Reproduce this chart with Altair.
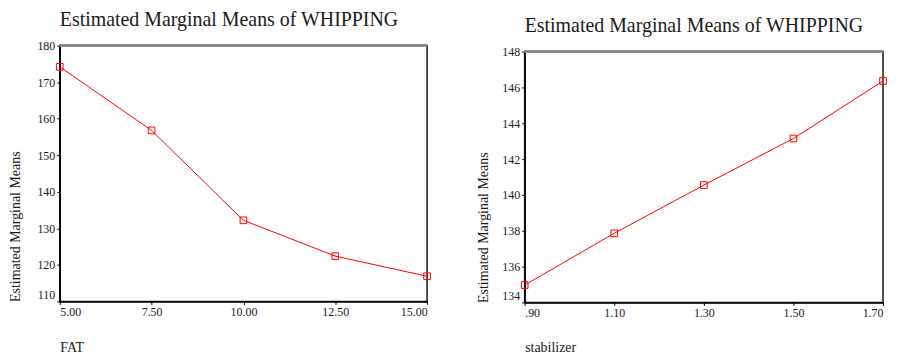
import altair as alt
import pandas as pd

# ---- data ----
fat_levels = [5.0, 7.5, 10.0, 12.5, 15.0]
fat_means = [174.2, 156.8, 132.2, 122.4, 116.9]
stab_levels = [0.9, 1.1, 1.3, 1.5, 1.7]
stab_means = [134.97, 137.86, 140.55, 143.15, 146.36]

fat_yticks = [110, 120, 130, 140, 150, 160, 170, 180]
stab_yticks = [134, 136, 138, 140, 142, 144, 146, 148]
fat_xticks = [5.0, 7.5, 10.0, 12.5, 15.0]
stab_xticks = [0.9, 1.1, 1.3, 1.5, 1.7]

chart_title = "Estimated Marginal Means of WHIPPING"
y_title = "Estimated Marginal Means"
x_title_left = "FAT"
x_title_right = "stabilizer"

FONT = "Liberation Serif"
INK = "#1a1a1a"
RED = "#ff0000"

df_fat = pd.DataFrame({"x": fat_levels, "y": fat_means})
df_stab = pd.DataFrame({"x": stab_levels, "y": stab_means})

LW, LH = 369, 257
RW, RH = 360, 252


def axis_common(**kw):
    base = dict(
        grid=False,
        labelFont=FONT,
        labelFontSize=12,
        labelColor=INK,
        labelOverlap=False,
        labelSeparation=0,
        titleFont=FONT,
        titleFontSize=14,
        titleFontWeight="normal",
        titleColor=INK,
        tickSize=3,
        tickColor="black",
        labelPadding=2,
        domainColor="black",
        domainWidth=1.5,
    )
    base.update(kw)
    return alt.Axis(**base)


def make_title():
    return alt.TitleParams(
        text=chart_title, anchor="start", frame="group", baseline="alphabetic",
        offset=-6, font=FONT, fontSize=20, fontWeight="normal", color=INK,
    )


def panel(df, xdom, ydom, xticks, yticks, xlabel_expr, xtitle, w, h, ytx, xty):
    x_enc = alt.X(
        "x:Q",
        scale=alt.Scale(domain=xdom, nice=False, zero=False),
        axis=axis_common(
            values=xticks,
            tickCount=len(xticks),
            labelExpr=xlabel_expr,
            title=xtitle,
            titleX=0,
            titleY=xty,
            titleAlign="left",
            titleBaseline="middle",
        ),
    )
    y_enc = alt.Y(
        "y:Q",
        scale=alt.Scale(domain=ydom, nice=False, zero=False),
        axis=axis_common(
            values=yticks,
            tickCount=len(yticks),
            title=y_title,
            titleX=ytx,
            titleY=h,
            titleAngle=-90,
            titleAlign="left",
            titleBaseline="middle",
            labelBaseline={
                "condition": {"test": f"datum.value == {ydom[0]}", "value": "bottom"},
                "value": "middle",
            },
        ),
    )
    base = alt.Chart(df).encode(x=x_enc, y=y_enc)
    line = base.mark_line(color=RED, strokeWidth=1)
    pts = base.mark_point(
        shape="square", filled=False, color=RED, size=45, strokeWidth=1, opacity=1
    )
    top = base.mark_rule(color="#8a8a8a", strokeWidth=2).encode(
        x=alt.value(0), x2=alt.value(w), y=alt.value(0)
    )
    return alt.layer(line, pts, top).properties(width=w, height=h, title=make_title())


left = panel(
    df_fat, [5, 15], [110, 180], fat_xticks, fat_yticks,
    "format(datum.value, '.2f')", x_title_left, LW, LH, -44, 46,
)
right = panel(
    df_stab, [0.9, 1.7], [134, 148], stab_xticks, stab_yticks,
    "datum.value < 1 ? substring(format(datum.value, '.2f'), 1) : format(datum.value, '.2f')",
    x_title_right, RW, RH, -41, 45,
)

spacer = (
    alt.Chart(pd.DataFrame({"a": [0]}))
    .mark_point(opacity=0)
    .encode(x=alt.value(0), y=alt.value(0))
    .properties(width=RW, height=6, view=alt.ViewBackground(stroke=None))
)

right_col = alt.vconcat(spacer, right, spacing=0, bounds="flush")

chart = (
    alt.hconcat(left, right_col, spacing=98, bounds="flush")
    .properties(padding={"left": 0, "top": 0, "right": 0, "bottom": 0}, background="white")
    .configure_view(stroke="#1a1a1a", strokeWidth=1.5)
)

chart.save("out.html", embed_options={"renderer": "svg", "actions": False})
